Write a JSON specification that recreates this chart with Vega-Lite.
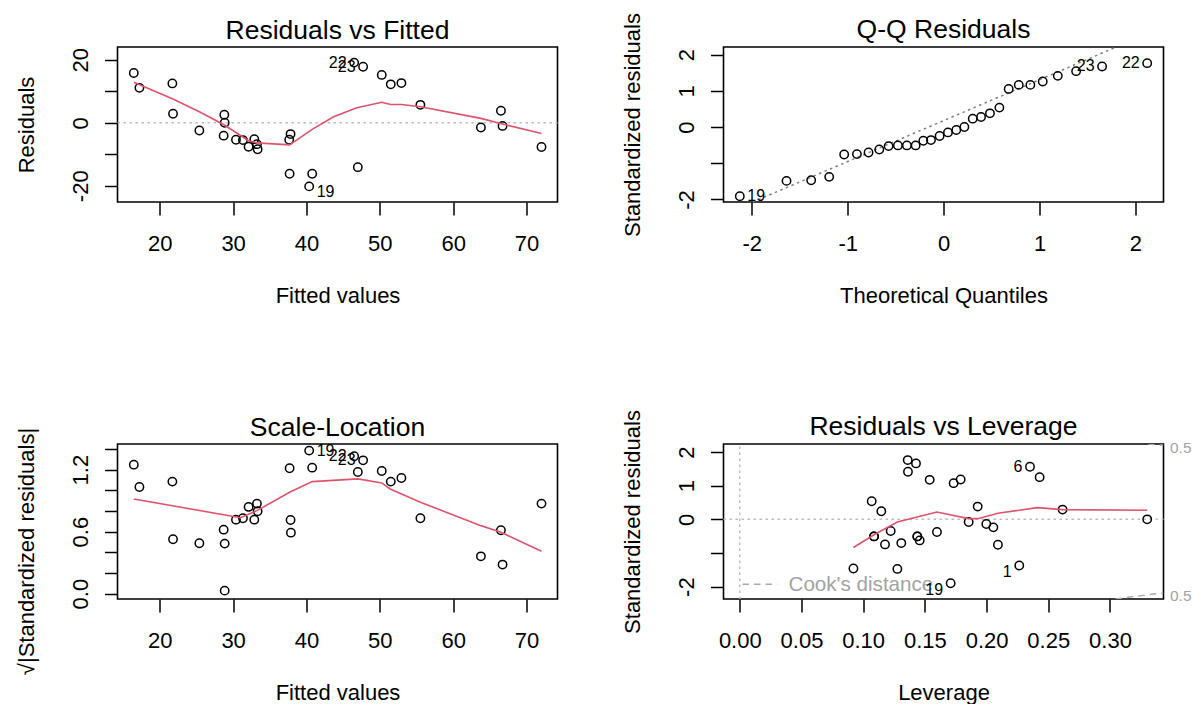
{
  "$schema": "https://vega.github.io/schema/vega-lite/v6.json",
  "padding": {"left": 14.5, "top": 11, "right": 5, "bottom": 0},
  "background": "white",
  "columns": 2,
  "spacing": {"row": 242, "column": 166},
  "bounds": "flush",
  "config": {
    "font": "Liberation Sans",
    "view": {"stroke": "black", "strokeWidth": 1.6},
    "axis": {"domain": false, "grid": false, "ticks": true, "tickColor": "black", "tickWidth": 1.5, "tickSize": 13,
      "labelFont": "Liberation Sans", "labelFontSize": 22, "labelColor": "black", "labelFlush": false, "labelOverlap": false,
      "titleFont": "Liberation Sans", "titleFontSize": 22, "titleFontWeight": "normal", "titleColor": "black"},
    "axisX": {"labelBaseline": "alphabetic", "labelPadding": 35, "titleBaseline": "alphabetic", "titleY": 100},
    "axisY": {"labelAngle": -90, "labelAlign": "center", "labelBaseline": "alphabetic", "labelPadding": 17, "titleAngle": -90, "titleBaseline": "alphabetic", "titleX": -84},
    "title": {"font": "Liberation Sans", "fontSize": 26.5, "fontWeight": "normal", "color": "black", "frame": "group", "baseline": "alphabetic", "offset": 3, "anchor": "middle"}
  },
  "datasets": {
    "rvf": [
      {"x":16.46,"y":15.8},{"x":17.23,"y":11.1},{"x":21.72,"y":12.5},{"x":21.81,"y":2.86},{"x":25.40,"y":-2.44},
      {"x":28.80,"y":2.55},{"x":28.85,"y":0.0},{"x":28.71,"y":-4.1},{"x":30.39,"y":-5.4},{"x":31.34,"y":-5.5},
      {"x":32.11,"y":-7.6},{"x":32.89,"y":-5.2},{"x":33.25,"y":-6.8},{"x":33.34,"y":-8.4},{"x":37.83,"y":-3.6},
      {"x":37.65,"y":-5.4},{"x":37.70,"y":-16.2},{"x":40.78,"y":-16.2},{"x":40.37,"y":-20.2},{"x":47.00,"y":-14.1},
      {"x":46.50,"y":19.1},{"x":47.72,"y":17.8},{"x":50.26,"y":15.2},{"x":51.49,"y":12.2},{"x":52.94,"y":12.6},
      {"x":55.53,"y":5.7},{"x":63.78,"y":-1.5},{"x":66.51,"y":3.8},{"x":66.73,"y":-1.0},{"x":72.04,"y":-7.7}
    ],
    "rvf_smooth": [
      {"x":16.46,"y":12.9},{"x":21.72,"y":7.6},{"x":25.40,"y":3.5},{"x":28.80,"y":-0.7},{"x":30.39,"y":-3.1},
      {"x":32.11,"y":-5.7},{"x":33.25,"y":-6.4},{"x":37.70,"y":-7.0},{"x":40.78,"y":-2.1},{"x":43.7,"y":1.9},
      {"x":46.87,"y":4.8},{"x":50.26,"y":6.5},{"x":51.49,"y":5.8},{"x":52.94,"y":5.8},{"x":55.53,"y":5.1},
      {"x":63.78,"y":1.4},{"x":66.73,"y":-0.4},{"x":72.04,"y":-3.4}
    ],
    "rvf_zero": [{"x":14.24,"y":0},{"x":74.22,"y":0}],
    "rvf_lab": [
      {"x":40.37,"y":-22.0,"t":"19","side":"right"},
      {"x":46.50,"y":19.1,"t":"22","side":"left"},
      {"x":47.72,"y":17.8,"t":"23","side":"left"}
    ],
    "qq": [
      {"x":-2.125,"y":-1.912},{"x":-1.638,"y":-1.487},{"x":-1.381,"y":-1.469},{"x":-1.193,"y":-1.376},{"x":-1.037,"y":-0.757},
      {"x":-0.904,"y":-0.748},{"x":-0.783,"y":-0.702},{"x":-0.671,"y":-0.619},{"x":-0.574,"y":-0.527},{"x":-0.477,"y":-0.508},
      {"x":-0.383,"y":-0.508},{"x":-0.292,"y":-0.508},{"x":-0.212,"y":-0.379},{"x":-0.132,"y":-0.360},{"x":-0.042,"y":-0.249},
      {"x":0.045,"y":-0.148},{"x":0.132,"y":-0.083},{"x":0.216,"y":0.0},{"x":0.303,"y":0.231},{"x":0.390,"y":0.277},
      {"x":0.483,"y":0.379},{"x":0.581,"y":0.536},{"x":0.678,"y":1.053},{"x":0.783,"y":1.164},{"x":0.904,"y":1.164},
      {"x":1.033,"y":1.256},{"x":1.190,"y":1.413},{"x":1.381,"y":1.543},{"x":1.652,"y":1.672},{"x":2.122,"y":1.764}
    ],
    "qq_line": [{"x":-1.99,"y":-2.07},{"x":1.80,"y":2.21}],
    "qq_lab": [
      {"x":-2.125,"y":-1.912,"t":"19","side":"right"},
      {"x":1.652,"y":1.672,"t":"23","side":"left"},
      {"x":2.122,"y":1.764,"t":"22","side":"left"}
    ],
    "sl": [
      {"x":16.46,"y":1.248},{"x":17.23,"y":1.032},{"x":21.72,"y":1.084},{"x":21.81,"y":0.526},{"x":25.40,"y":0.487},
      {"x":28.71,"y":0.619},{"x":28.85,"y":0.484},{"x":28.85,"y":0.029},{"x":30.39,"y":0.716},{"x":31.34,"y":0.729},
      {"x":32.11,"y":0.839},{"x":32.89,"y":0.716},{"x":33.25,"y":0.871},{"x":33.34,"y":0.797},{"x":37.83,"y":0.713},
      {"x":37.70,"y":1.213},{"x":37.88,"y":0.590},{"x":40.78,"y":1.219},{"x":40.37,"y":1.384},{"x":47.00,"y":1.177},
      {"x":46.50,"y":1.329},{"x":47.72,"y":1.290},{"x":50.26,"y":1.187},{"x":51.49,"y":1.084},{"x":52.94,"y":1.119},
      {"x":55.53,"y":0.729},{"x":63.78,"y":0.361},{"x":66.51,"y":0.613},{"x":66.73,"y":0.281},{"x":72.04,"y":0.871}
    ],
    "sl_smooth": [
      {"x":16.46,"y":0.916},{"x":31.0,"y":0.735},{"x":33.25,"y":0.803},{"x":37.70,"y":0.981},{"x":40.78,"y":1.084},
      {"x":47.0,"y":1.110},{"x":50.26,"y":1.071},{"x":51.4,"y":1.013},{"x":55.53,"y":0.884},{"x":63.78,"y":0.658},
      {"x":66.51,"y":0.594},{"x":72.04,"y":0.410}
    ],
    "sl_lab": [
      {"x":40.37,"y":1.384,"t":"19","side":"right"},
      {"x":46.50,"y":1.329,"t":"22","side":"left"},
      {"x":47.72,"y":1.290,"t":"23","side":"left"}
    ],
    "rvl": [
      {"x":0.0921,"y":-1.463},{"x":0.1069,"y":0.537},{"x":0.1147,"y":0.239},{"x":0.1088,"y":-0.507},{"x":0.1177,"y":-0.746},
      {"x":0.1223,"y":-0.348},{"x":0.1277,"y":-1.473},{"x":0.1309,"y":-0.706},{"x":0.1361,"y":1.761},{"x":0.1363,"y":1.413},
      {"x":0.1428,"y":1.662},{"x":0.1439,"y":-0.507},{"x":0.1458,"y":-0.627},{"x":0.1539,"y":1.174},{"x":0.1598,"y":-0.378},
      {"x":0.1709,"y":-1.900},{"x":0.1733,"y":1.075},{"x":0.1790,"y":1.184},{"x":0.1855,"y":-0.080},{"x":0.1928,"y":0.378},
      {"x":0.1998,"y":-0.139},{"x":0.2055,"y":-0.239},{"x":0.2092,"y":-0.756},{"x":0.2265,"y":-1.373},{"x":0.2352,"y":1.562},
      {"x":0.2430,"y":1.254},{"x":0.2616,"y":0.289},{"x":0.3302,"y":0.0},{"x":0.1439,"y":-0.507},{"x":0.1088,"y":-0.507}
    ],
    "rvl_smooth": [
      {"x":0.0921,"y":-0.836},{"x":0.1088,"y":-0.458},{"x":0.1277,"y":-0.080},{"x":0.1598,"y":0.219},{"x":0.1855,"y":0.020},
      {"x":0.1928,"y":0.020},{"x":0.2092,"y":0.179},{"x":0.2411,"y":0.348},{"x":0.2616,"y":0.289},{"x":0.3302,"y":0.269}
    ],
    "rvl_h": [{"x":-0.0132,"y":0},{"x":0.3434,"y":0}],
    "rvl_v": [{"x":0,"y":-2.368},{"x":0,"y":2.239}],
    "rvl_lab": [
      {"x":0.2352,"y":1.562,"t":"6"},
      {"x":0.2265,"y":-1.552,"t":"1"},
      {"x":0.1709,"y":-2.09,"t":"19"}
    ],
    "cook": [
      {"x":0.3045,"y":-2.368,"curve":"lower"},
      {"x":0.3248,"y":-2.268,"curve":"lower"},
      {"x":0.3434,"y":-2.188,"curve":"lower"},
      {"x":0.331,"y":2.239,"curve":"upper"},
      {"x":0.3434,"y":2.2,"curve":"upper"}
    ],
    "cook_key": [{"x":0.0022,"y":-1.928},{"x":0.0305,"y":-1.928}],
    "cook_key_text": [{"x":0.0395,"y":-1.94,"t":"Cook's distance"}],
    "cook_lab": [{"x":0.3434,"y":2.2,"t":"0.5"},{"x":0.3434,"y":-2.188,"t":"0.5"}]
  },
  "concat": [
    {
      "width": 440, "height": 155,
      "title": {"text": "Residuals vs Fitted", "offset": 3},
      "encoding": {
        "x": {"field": "x", "type": "quantitative", "scale": {"domain": [14.24, 74.22], "nice": false, "zero": false},
              "axis": {"title": "Fitted values", "values": [20, 30, 40, 50, 60, 70]}},
        "y": {"field": "y", "type": "quantitative", "scale": {"domain": [-25.16, 24.06], "nice": false, "zero": false},
              "axis": {"title": "Residuals", "values": [-20, -10, 0, 10, 20], "labelExpr": "datum.value % 20 == 0 ? replace(datum.label, '\u2212', '-') : ''"}}
      },
      "layer": [
        {"data": {"name": "rvf_zero"}, "mark": {"type": "line", "color": "#BEBEBE", "strokeDash": [2.5, 3.5], "strokeWidth": 1.5}},
        {"data": {"name": "rvf"}, "mark": {"type": "point", "filled": false, "color": "black", "size": 70, "strokeWidth": 1.5, "opacity": 1}},
        {"data": {"name": "rvf_smooth"}, "mark": {"type": "line", "color": "#DF536B", "strokeWidth": 1.6}},
        {"data": {"name": "rvf_lab"}, "transform": [{"filter": "datum.side == 'left'"}], "mark": {"type": "text", "align": "right", "baseline": "middle", "dx": -7.5, "fontSize": 16, "color": "black"}, "encoding": {"text": {"field": "t"}}},
        {"data": {"name": "rvf_lab"}, "transform": [{"filter": "datum.side == 'right'"}], "mark": {"type": "text", "align": "left", "baseline": "middle", "dx": 7.5, "fontSize": 16, "color": "black"}, "encoding": {"text": {"field": "t"}}}
      ]
    },
    {
      "width": 440, "height": 155,
      "title": {"text": "Q-Q Residuals", "offset": -30.5},
      "encoding": {
        "x": {"field": "x", "type": "quantitative", "scale": {"domain": [-2.295, 2.292], "nice": false, "zero": false},
              "axis": {"title": "Theoretical Quantiles", "values": [-2, -1, 0, 1, 2], "labelExpr": "replace(datum.label, '\u2212', '-')"}},
        "y": {"field": "y", "type": "quantitative", "scale": {"domain": [-2.07, 2.21], "nice": false, "zero": false},
              "axis": {"title": "Standardized residuals", "values": [-2, -1, 0, 1, 2], "labelExpr": "datum.value == -1 ? '' : replace(datum.label, '\u2212', '-')"}}
      },
      "layer": [
        {"data": {"name": "qq_line"}, "mark": {"type": "line", "color": "#7F7F7F", "strokeDash": [2.5, 3.5], "strokeWidth": 1.5, "clip": true}},
        {"data": {"name": "qq"}, "mark": {"type": "point", "filled": false, "color": "black", "size": 70, "strokeWidth": 1.5, "opacity": 1}},
        {"data": {"name": "qq_lab"}, "transform": [{"filter": "datum.side == 'left'"}], "mark": {"type": "text", "align": "right", "baseline": "middle", "dx": -7.5, "fontSize": 16, "color": "black"}, "encoding": {"text": {"field": "t"}}},
        {"data": {"name": "qq_lab"}, "transform": [{"filter": "datum.side == 'right'"}], "mark": {"type": "text", "align": "left", "baseline": "middle", "dx": 7.5, "fontSize": 16, "color": "black"}, "encoding": {"text": {"field": "t"}}}
      ]
    },
    {
      "width": 440, "height": 155,
      "title": {"text": "Scale-Location", "offset": -14},
      "encoding": {
        "x": {"field": "x", "type": "quantitative", "scale": {"domain": [14.24, 74.22], "nice": false, "zero": false},
              "axis": {"title": "Fitted values", "values": [20, 30, 40, 50, 60, 70]}},
        "y": {"field": "y", "type": "quantitative", "scale": {"domain": [-0.052, 1.448], "nice": false, "zero": false},
              "axis": {"title": "√|Standardized residuals|", "titleY": 107, "values": [0, 0.2, 0.4, 0.6, 0.8, 1.0, 1.2, 1.4], "labelExpr": "abs(datum.value) < 0.001 || abs(datum.value - 0.6) < 0.001 || abs(datum.value - 1.2) < 0.001 ? format(datum.value, '.1f') : ''"}}
      },
      "layer": [
        {"data": {"name": "sl"}, "mark": {"type": "point", "filled": false, "color": "black", "size": 70, "strokeWidth": 1.5, "opacity": 1}},
        {"data": {"name": "sl_smooth"}, "mark": {"type": "line", "color": "#DF536B", "strokeWidth": 1.6}},
        {"data": {"name": "sl_lab"}, "transform": [{"filter": "datum.side == 'left'"}], "mark": {"type": "text", "align": "right", "baseline": "middle", "dx": -7.5, "fontSize": 16, "color": "black"}, "encoding": {"text": {"field": "t"}}},
        {"data": {"name": "sl_lab"}, "transform": [{"filter": "datum.side == 'right'"}], "mark": {"type": "text", "align": "left", "baseline": "middle", "dx": 7.5, "fontSize": 16, "color": "black"}, "encoding": {"text": {"field": "t"}}}
      ]
    },
    {
      "width": 440, "height": 155,
      "title": {"text": "Residuals vs Leverage", "offset": -30.5},
      "encoding": {
        "x": {"field": "x", "type": "quantitative", "scale": {"domain": [-0.0132, 0.3434], "nice": false, "zero": false},
              "axis": {"title": "Leverage", "values": [0, 0.05, 0.1, 0.15, 0.2, 0.25, 0.3], "format": ".2f"}},
        "y": {"field": "y", "type": "quantitative", "scale": {"domain": [-2.368, 2.239], "nice": false, "zero": false},
              "axis": {"title": "Standardized residuals", "values": [-2, -1, 0, 1, 2], "labelExpr": "datum.value == -1 ? '' : replace(datum.label, '\u2212', '-')"}}
      },
      "layer": [
        {"data": {"name": "rvl_h"}, "mark": {"type": "line", "color": "#BEBEBE", "strokeDash": [2.5, 3.5], "strokeWidth": 1.5}},
        {"data": {"name": "rvl_v"}, "mark": {"type": "line", "color": "#BEBEBE", "strokeDash": [2.5, 3.5], "strokeWidth": 1.5}},
        {"data": {"name": "rvl"}, "mark": {"type": "point", "filled": false, "color": "black", "size": 70, "strokeWidth": 1.5, "opacity": 1}},
        {"data": {"name": "rvl_smooth"}, "mark": {"type": "line", "color": "#DF536B", "strokeWidth": 1.6}},
        {"data": {"name": "cook"}, "mark": {"type": "line", "color": "#ABABAB", "strokeDash": [6.5, 5], "strokeWidth": 1.5, "clip": true},
         "encoding": {"detail": {"field": "curve"}}},
        {"data": {"name": "cook_key"}, "mark": {"type": "line", "color": "#ABABAB", "strokeDash": [6.5, 5], "strokeWidth": 1.5}},
        {"data": {"name": "cook_key_text"}, "mark": {"type": "text", "align": "left", "baseline": "middle", "fontSize": 20.6, "color": "#A3A3A3"}, "encoding": {"text": {"field": "t"}}},
        {"data": {"name": "cook_lab"}, "mark": {"type": "text", "align": "left", "baseline": "middle", "dx": 6.5, "dy": 3, "fontSize": 15.5, "color": "#A3A3A3"}, "encoding": {"text": {"field": "t"}}},
        {"data": {"name": "rvl_lab"}, "mark": {"type": "text", "align": "right", "baseline": "middle", "dx": -7.5, "fontSize": 16, "color": "black"}, "encoding": {"text": {"field": "t"}}}
      ]
    }
  ]
}
